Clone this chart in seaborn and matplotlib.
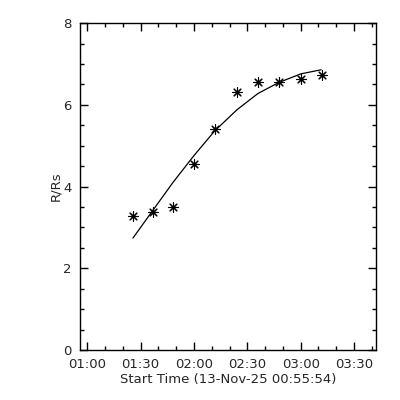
import matplotlib as mpl
import numpy as np
import pandas as pd
import seaborn as sns
from matplotlib import pyplot
from matplotlib.ticker import MultipleLocator

# %% -- data ------------------------------------------------------------- #
start_time = '00:55:54'
obs_times = ['01:25:40', '01:36:54', '01:48:09', '02:00:00', '02:11:36',
             '02:24:09', '02:36:00', '02:47:48', '03:00:09', '03:12:12']
height = [3.28, 3.39, 3.49, 4.56, 5.42, 6.32, 6.56, 6.56, 6.64, 6.72]

fit_times = ['01:25:40', '01:36:54', '01:48:09', '02:00:00', '02:11:36',
             '02:24:09', '02:36:00', '02:47:48', '03:00:09', '03:11:30']
fit_height = [2.74, 3.42, 4.10, 4.76, 5.36, 5.88, 6.28, 6.55, 6.76, 6.86]

xtick_labels = ['01:00', '01:30', '02:00', '02:30', '03:00', '03:30']

# %% -- helpers ----------------------------------------------------------- #
t0 = pd.to_timedelta(start_time)
def minutes(ts):
    return (pd.to_timedelta(ts) - t0).total_seconds() / 60.0

data = pd.DataFrame({'t': [minutes(t) for t in obs_times], 'r': height})
fit = pd.DataFrame({'t': [minutes(t) for t in fit_times], 'r': fit_height})

# %% -- plot --------------------------------------------------------------- #
sns.set_style("ticks")
mpl.rcParams['font.family'] = ['DejaVu Sans']
mpl.rcParams['axes.linewidth'] = 1

f = pyplot.figure(figsize=(4, 4), dpi=100)
ax = f.add_axes([0.2, 0.125, 0.741, 0.817])

sns.lineplot(data=fit, x='t', y='r', color='black', linewidth=0.9, ax=ax)
sns.scatterplot(data=data, x='t', y='r', marker=(8, 2, 0), s=48,
                color='black', linewidth=0.8, ax=ax)

# aesthetics
ax.set_xlim(0, 166.7)
ax.set_ylim(0, 8)
ax.set_xticks([minutes(l + ':00') for l in xtick_labels])
ax.set_xticklabels(xtick_labels, fontsize=9.5)
ax.set_xticks(np.arange(minutes('01:00:00'), 166.7, 10), minor=True)
ax.set_yticks([0, 2, 4, 6, 8])
ax.set_yticklabels(['0', '2', '4', '6', '8'], fontsize=9.5)
ax.yaxis.set_minor_locator(MultipleLocator(0.5))
ax.tick_params(axis='both', which='major', direction='in', length=6,
               width=1, top=True, right=True, pad=6, color='black')
ax.tick_params(axis='both', which='minor', direction='in', length=3,
               width=1, top=True, right=True, color='black')
ax.set_xlabel('Start Time (13-Nov-25 00:55:54)', fontsize=9.5, labelpad=1)
ax.set_ylabel('R/Rs', fontsize=9.5, labelpad=1)
for s in ax.spines.values():
    s.set_visible(True)
    s.set_color('black')

pyplot.savefig('out.png', dpi=100, facecolor='white')
